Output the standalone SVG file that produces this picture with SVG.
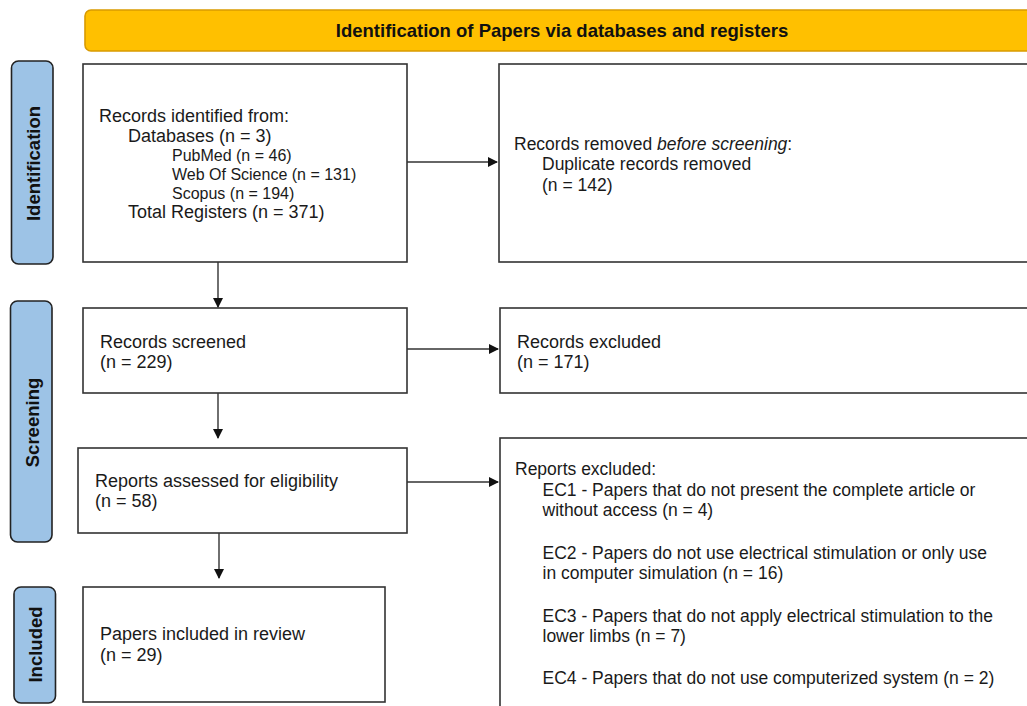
<svg xmlns="http://www.w3.org/2000/svg" width="1027" height="706" viewBox="0 0 1027 706">
<defs>
<style>
.box{fill:#fff;stroke:#333;stroke-width:1.6}
.side{fill:#9dc3e6;stroke:#222;stroke-width:1.6}
.banner{fill:#ffc000;stroke:#d99a00;stroke-width:1.6}
.t{font-family:"Liberation Sans",Arial,sans-serif;font-size:18px;fill:#1a1a1a}
.r{font-size:17.5px}
.s{font-size:16px}
.b{font-family:"Liberation Sans",Arial,sans-serif;font-size:18.5px;font-weight:bold;fill:#111}
.conn{stroke:#333;stroke-width:1.4;fill:none}
</style>
<marker id="ah" markerWidth="10" markerHeight="10" refX="9" refY="5" orient="auto" markerUnits="userSpaceOnUse">
<path d="M0,0 L10,5 L0,10 z" fill="#111"/>
</marker>
</defs>
<rect width="1027" height="706" fill="#fff"/>

<g id="banner">
<rect class="banner" x="85" y="10" width="960" height="41" rx="6"/>
<text class="b" x="562" y="37" text-anchor="middle" font-size="18.1">Identification of Papers via databases and registers</text>
</g>

<g id="side-identification">
<rect class="side" x="11.5" y="61" width="41.5" height="203" rx="7"/>
<text class="b" transform="translate(33,163.5) rotate(-90)" text-anchor="middle" dominant-baseline="central">Identification</text>
</g>
<g id="side-screening">
<rect class="side" x="10.5" y="301" width="41.5" height="241" rx="7"/>
<text class="b" transform="translate(32,422.5) rotate(-90)" text-anchor="middle" dominant-baseline="central">Screening</text>
</g>
<g id="side-included">
<rect class="side" x="14" y="587" width="41.5" height="116" rx="7"/>
<text class="b" transform="translate(35,644.5) rotate(-90)" text-anchor="middle" dominant-baseline="central">Included</text>
</g>

<g id="records-identified">
<rect class="box" x="83" y="64" width="324" height="198"/>
<text class="t" x="99" y="122">Records identified from:</text>
<text class="t" x="128" y="141.5">Databases (n = 3)</text>
<text class="t s" x="172" y="160.5">PubMed (n = 46)</text>
<text class="t s" x="172" y="179.5">Web Of Science (n = 131)</text>
<text class="t s" x="172" y="198.5">Scopus (n = 194)</text>
<text class="t" x="128" y="218">Total Registers (n = 371)</text>
</g>

<g id="records-removed">
<rect class="box" x="499" y="64" width="560" height="198"/>
<text class="t r" x="514" y="150">Records removed <tspan font-style="italic">before screening</tspan>:</text>
<text class="t r" x="542" y="170">Duplicate records removed</text>
<text class="t r" x="542" y="190.5">(n = 142)</text>
</g>

<g id="records-screened">
<rect class="box" x="83" y="308" width="324" height="85"/>
<text class="t" x="100" y="348">Records screened</text>
<text class="t" x="100" y="368">(n = 229)</text>
</g>

<g id="records-excluded">
<rect class="box" x="500" y="308" width="560" height="85"/>
<text class="t" x="517" y="348">Records excluded</text>
<text class="t" x="517" y="368">(n = 171)</text>
</g>

<g id="reports-assessed">
<rect class="box" x="78" y="448" width="329" height="85"/>
<text class="t" x="95" y="487">Reports assessed for eligibility</text>
<text class="t" x="95" y="507">(n = 58)</text>
</g>

<g id="reports-excluded">
<rect class="box" x="500" y="438" width="560" height="300"/>
<text class="t r" x="515" y="475">Reports excluded:</text>
<text class="t r" x="542.5" y="496">EC1 - Papers that do not present the complete article or</text>
<text class="t r" x="542.5" y="516">without access (n = 4)</text>
<text class="t r" x="542.5" y="558.5">EC2 - Papers do not use electrical stimulation or only use</text>
<text class="t r" x="542.5" y="579">in computer simulation (n = 16)</text>
<text class="t r" x="542.5" y="621.5">EC3 - Papers that do not apply electrical stimulation to the</text>
<text class="t r" x="542.5" y="641.5">lower limbs (n = 7)</text>
<text class="t r" x="542.5" y="683.5">EC4 - Papers that do not use computerized system (n = 2)</text>
</g>

<g id="papers-included">
<rect class="box" x="83" y="587" width="302" height="115"/>
<text class="t" x="100" y="640">Papers included in review</text>
<text class="t" x="100" y="661">(n = 29)</text>
</g>

<g id="connectors">
<line class="conn" x1="407" y1="162" x2="497" y2="162" marker-end="url(#ah)"/>
<line class="conn" x1="218" y1="262" x2="218" y2="307" marker-end="url(#ah)"/>
<line class="conn" x1="407" y1="349" x2="498" y2="349" marker-end="url(#ah)"/>
<line class="conn" x1="218" y1="393" x2="218" y2="438" marker-end="url(#ah)"/>
<line class="conn" x1="407" y1="482" x2="498" y2="482" marker-end="url(#ah)"/>
<line class="conn" x1="219" y1="533" x2="219" y2="578" marker-end="url(#ah)"/>
</g>
</svg>
